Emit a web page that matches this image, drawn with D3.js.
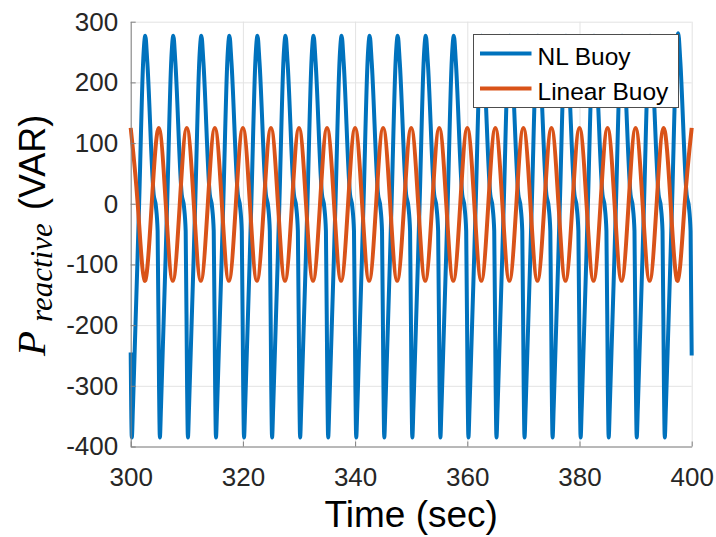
<!DOCTYPE html>
<html>
<head>
<meta charset="utf-8">
<script src="https://cdn.jsdelivr.net/npm/d3@7"></script>
<style>
  body { margin: 0; background: #fff; }
  svg { display: block; }
  .tick text { font-family: "Liberation Sans", Arial, sans-serif; font-size: 26px; fill: #262626; }
</style>
</head>
<body>
<svg width="716" height="537"></svg>
<script>
// time range and tick labels
const xTicks = [300, 320, 340, 360, 380, 400];
const yTicks = [-400, -300, -200, -100, 0, 100, 200, 300];
const seriesNames = ["NL Buoy", "Linear Buoy"];

// NL buoy: [time (s), reactive power (VAR)]
// (trough, rise, zero, peak, fall, shoulder, steep drop) for every cycle
const nlBuoy = [
  [300.0, -245],
  [300.2, -385], [300.4, -335], [301.5, 0], [302.25, 240], [302.6, 277], [302.95, 235], [304.1, 15], [304.5, -5], [304.8, -45], [305.05, -300],
  [305.2, -385], [305.4, -335], [306.5, 0], [307.25, 240], [307.6, 277], [307.95, 235], [309.1, 15], [309.5, -5], [309.8, -45], [310.05, -300],
  [310.2, -385], [310.4, -335], [311.5, 0], [312.25, 240], [312.6, 277], [312.95, 235], [314.1, 15], [314.5, -5], [314.8, -45], [315.05, -300],
  [315.2, -385], [315.4, -335], [316.5, 0], [317.25, 240], [317.6, 277], [317.95, 235], [319.1, 15], [319.5, -5], [319.8, -45], [320.05, -300],
  [320.2, -385], [320.4, -335], [321.5, 0], [322.25, 240], [322.6, 277], [322.95, 235], [324.1, 15], [324.5, -5], [324.8, -45], [325.05, -300],
  [325.2, -385], [325.4, -335], [326.5, 0], [327.25, 240], [327.6, 277], [327.95, 235], [329.1, 15], [329.5, -5], [329.8, -45], [330.05, -300],
  [330.2, -385], [330.4, -335], [331.5, 0], [332.25, 240], [332.6, 277], [332.95, 235], [334.1, 15], [334.5, -5], [334.8, -45], [335.05, -300],
  [335.2, -385], [335.4, -335], [336.5, 0], [337.25, 240], [337.6, 277], [337.95, 235], [339.1, 15], [339.5, -5], [339.8, -45], [340.05, -300],
  [340.2, -385], [340.4, -335], [341.5, 0], [342.25, 240], [342.6, 277], [342.95, 235], [344.1, 15], [344.5, -5], [344.8, -45], [345.05, -300],
  [345.2, -385], [345.4, -335], [346.5, 0], [347.25, 240], [347.6, 277], [347.95, 235], [349.1, 15], [349.5, -5], [349.8, -45], [350.05, -300],
  [350.2, -385], [350.4, -335], [351.5, 0], [352.25, 240], [352.6, 277], [352.95, 235], [354.1, 15], [354.5, -5], [354.8, -45], [355.05, -300],
  [355.2, -385], [355.4, -335], [356.5, 0], [357.25, 240], [357.6, 277], [357.95, 235], [359.1, 15], [359.5, -5], [359.8, -45], [360.05, -300],
  [360.2, -385], [360.4, -335], [361.5, 0], [362.25, 240], [362.6, 277], [362.95, 235], [364.1, 15], [364.5, -5], [364.8, -45], [365.05, -300],
  [365.2, -385], [365.4, -335], [366.5, 0], [367.25, 240], [367.6, 277], [367.95, 235], [369.1, 15], [369.5, -5], [369.8, -45], [370.05, -300],
  [370.2, -385], [370.4, -335], [371.5, 0], [372.25, 240], [372.6, 277], [372.95, 235], [374.1, 15], [374.5, -5], [374.8, -45], [375.05, -300],
  [375.2, -385], [375.4, -335], [376.5, 0], [377.25, 240], [377.6, 277], [377.95, 235], [379.1, 15], [379.5, -5], [379.8, -45], [380.05, -300],
  [380.2, -385], [380.4, -335], [381.5, 0], [382.25, 240], [382.6, 277], [382.95, 235], [384.1, 15], [384.5, -5], [384.8, -45], [385.05, -300],
  [385.2, -385], [385.4, -335], [386.5, 0], [387.25, 240], [387.6, 277], [387.95, 235], [389.1, 15], [389.5, -5], [389.8, -45], [390.05, -300],
  [390.2, -385], [390.4, -335], [391.5, 0], [392.25, 240], [392.6, 277], [392.95, 235], [394.1, 15], [394.5, -5], [394.8, -45], [395.05, -300],
  [395.2, -385], [395.4, -335], [396.5, 0], [397.25, 243], [397.6, 281], [397.95, 238], [399.1, 15], [399.5, -5], [399.8, -45],
  [400.0, -250]
];

// Linear buoy: peaks, zero crossings and troughs
const linearBuoy = [
  [300, 125], [301.25, 0], [302.5, -127], [303.75, 0],
  [305, 125], [306.25, 0], [307.5, -127], [308.75, 0],
  [310, 125], [311.25, 0], [312.5, -127], [313.75, 0],
  [315, 125], [316.25, 0], [317.5, -127], [318.75, 0],
  [320, 125], [321.25, 0], [322.5, -127], [323.75, 0],
  [325, 125], [326.25, 0], [327.5, -127], [328.75, 0],
  [330, 125], [331.25, 0], [332.5, -127], [333.75, 0],
  [335, 125], [336.25, 0], [337.5, -127], [338.75, 0],
  [340, 125], [341.25, 0], [342.5, -127], [343.75, 0],
  [345, 125], [346.25, 0], [347.5, -127], [348.75, 0],
  [350, 125], [351.25, 0], [352.5, -127], [353.75, 0],
  [355, 125], [356.25, 0], [357.5, -127], [358.75, 0],
  [360, 125], [361.25, 0], [362.5, -127], [363.75, 0],
  [365, 125], [366.25, 0], [367.5, -127], [368.75, 0],
  [370, 125], [371.25, 0], [372.5, -127], [373.75, 0],
  [375, 125], [376.25, 0], [377.5, -127], [378.75, 0],
  [380, 125], [381.25, 0], [382.5, -127], [383.75, 0],
  [385, 125], [386.25, 0], [387.5, -127], [388.75, 0],
  [390, 125], [391.25, 0], [392.5, -127], [393.75, 0],
  [395, 125], [396.25, 0], [397.5, -127], [398.75, 0],
  [400, 125]
];

const colors = ["#0072BD", "#D95319"];

const svg = d3.select("svg");
const margin = {left: 130.7, right: 24.3, top: 21.7, bottom: 90.5};
const width = +svg.attr("width") - margin.left - margin.right,
    height = +svg.attr("height") - margin.top - margin.bottom;

const x = d3.scaleLinear().domain([300, 400]).range([0, width]);
const y = d3.scaleLinear().domain([-400, 300]).range([height, 0]);

const g = svg.append("g").attr("transform", `translate(${margin.left},${margin.top})`);

// plain hyphen for negatives, like the original
const fmt = d => String(d);

// grid
g.append("g")
    .attr("class", "grid")
    .call(d3.axisBottom(x).tickValues(xTicks).tickSize(height).tickFormat(""))
    .call(s => s.select(".domain").remove())
    .call(s => s.selectAll("line").attr("stroke", "#e3e3e3"));
g.append("g")
    .attr("class", "grid")
    .call(d3.axisLeft(y).tickValues(yTicks).tickSize(-width).tickFormat(""))
    .call(s => s.select(".domain").remove())
    .call(s => s.selectAll("line").attr("stroke", "#e3e3e3"));

// lines
const line = d3.line()
    .x(d => x(d[0]))
    .y(d => y(d[1]));

g.append("path")
    .datum(nlBuoy)
    .attr("fill", "none")
    .attr("stroke", colors[0])
    .attr("stroke-width", 4)
    .attr("stroke-linejoin", "round")
    .attr("d", line.curve(d3.curveMonotoneX));

g.append("path")
    .datum(linearBuoy)
    .attr("fill", "none")
    .attr("stroke", colors[1])
    .attr("stroke-width", 4)
    .attr("d", line.curve(d3.curveNatural));

// axes, ticks inside like matlab
const xAxis = g.append("g")
    .attr("transform", `translate(0,${height})`)
    .call(d3.axisBottom(x).tickValues(xTicks).tickFormat(fmt).tickSizeInner(-5).tickSizeOuter(0).tickPadding(14));
xAxis.selectAll("text").attr("dy", "0.71em").attr("y", 21);

const yAxis = g.append("g")
    .call(d3.axisLeft(y).tickValues(yTicks).tickFormat(fmt).tickSizeInner(-5).tickSizeOuter(0).tickPadding(12.5));

[xAxis, yAxis].forEach(a => {
    a.select(".domain").attr("stroke", "#808080");
    a.selectAll(".tick line").attr("stroke", "#808080");
});

// axis titles
svg.append("text")
    .attr("x", margin.left + width / 2)
    .attr("y", 527)
    .attr("text-anchor", "middle")
    .style("font-family", "Liberation Sans, Arial, sans-serif")
    .style("font-size", "37px")
    .attr("fill", "#000")
    .text("Time (sec)");

const ylab = svg.append("g");
ylab.append("text")
    .attr("transform", "translate(45,356) rotate(-90)")
    .style("font-family", "Liberation Serif, serif")
    .style("font-style", "italic")
    .style("font-size", "41px")
    .text("P");
ylab.append("text")
    .attr("transform", "translate(52,322) rotate(-90)")
    .style("font-family", "Liberation Serif, serif")
    .style("font-style", "italic")
    .style("font-size", "31px")
    .text("reactive");
ylab.append("text")
    .attr("transform", "translate(45,210) rotate(-90)")
    .style("font-family", "Liberation Sans, Arial, sans-serif")
    .style("font-size", "36px")
    .text("(VAR)");

// legend
const legend = svg.append("g").attr("transform", "translate(473.5,34.5)");
legend.append("rect")
    .attr("width", 205)
    .attr("height", 73)
    .attr("fill", "#fff")
    .attr("stroke", "#4d4d4d")
    .attr("stroke-width", 1);

const item = legend.selectAll(".item")
    .data(seriesNames)
    .join("g")
    .attr("class", "item")
    .attr("transform", (d, i) => `translate(0,${19 + i * 35})`);

item.append("line")
    .attr("x1", 6.5)
    .attr("x2", 58)
    .attr("stroke", (d, i) => colors[i])
    .attr("stroke-width", 4);

item.append("text")
    .attr("x", 64)
    .attr("y", 11.5)
    .style("font-family", "Liberation Sans, Arial, sans-serif")
    .style("font-size", "24.5px")
    .attr("fill", "#000")
    .text(d => d);
</script>
</body>
</html>
